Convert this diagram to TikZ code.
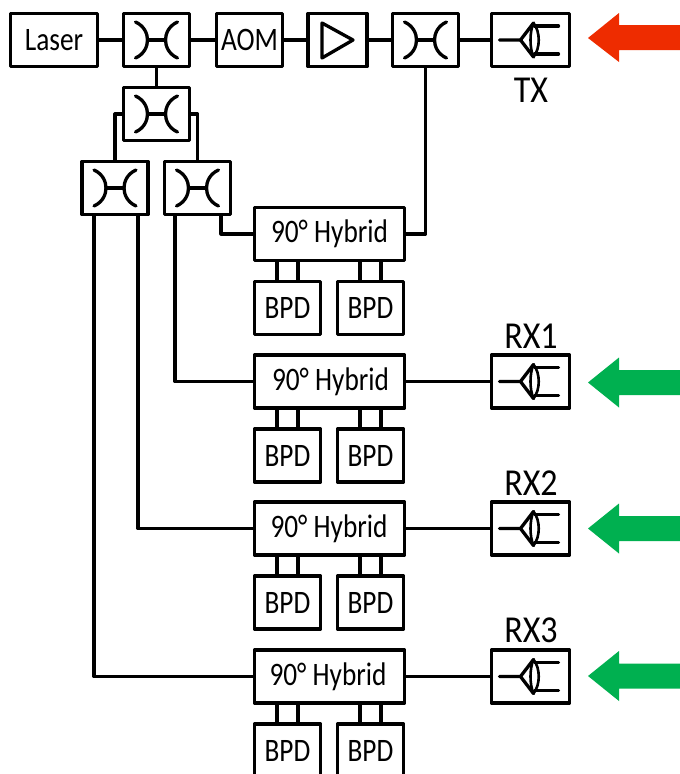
\documentclass[tikz,border=0pt]{standalone}
\usepackage{fontspec}
\setmainfont{Carlito}
\usetikzlibrary{calc}
\newcommand{\talltext}[1]{\scalebox{1}[1.2]{#1}}
\tikzset{
  x=1pt,y=-1pt,
  box/.style={draw=black,line width=3.2pt,line join=round,fill=white,inner sep=0pt,font=\fontsize{27.3}{27.3}\selectfont},
  small/.style={box,minimum width=66pt,minimum height=53pt},
  hybrid/.style={box,minimum width=150pt,minimum height=53pt},
  rxbox/.style={box,minimum width=78pt,minimum height=53pt},
  wire/.style={draw=black,line width=3.2pt,line join=round},
  glyph/.style={draw=black,line width=3.3pt,line cap=round,line join=round},
  lbl/.style={font=\fontsize{34}{34}\selectfont,inner sep=0pt},
  hlabel/.style={font=\fontsize{27.3}{27.3}\selectfont,inner sep=0pt},
  pics/coupler/.style={code={
    \draw[glyph] (-21,-18) .. controls (-12,-14) and (-9,-6) .. (-9,0) .. controls (-9,6) and (-12,14) .. (-21,18);
    \draw[glyph] (21,-18) .. controls (12,-14) and (9,-6) .. (9,0) .. controls (9,6) and (12,14) .. (21,18);
    \draw[glyph] (-9,0) -- (9,0);
  }},
  pics/detector/.style={code={
    \draw[glyph] (-31,0) -- (-10,0) -- (3,-17);
    \draw[glyph] (-10,0) -- (3,17);
    \draw[glyph,line width=2.6pt] (3,-17) .. controls (-1,-8) and (-1,8) .. (3,17);
    \draw[glyph,line width=2.6pt] (3,-17) .. controls (10,-8) and (10,8) .. (3,17);
    \draw[glyph] (4,-14) -- (28,-14);
    \draw[glyph] (4,14) -- (28,14);
  }},
}
\begin{document}
\begin{tikzpicture}
\useasboundingbox (0,0) rectangle (680,774);
% top row
\node[box,minimum width=87pt,minimum height=53pt] (laser) at (54,40) {\talltext{Laser}};
\node[small] (c1) at (156.5,40) {};
\node[small] (aom) at (249.5,40) {\talltext{AOM}};
\node[small,minimum width=59pt] (amp) at (337.5,40) {};
\node[small] (c5) at (425.5,40) {};
\node[rxbox] (tx) at (530.5,40) {};
\node[small] (c2) at (156.5,114) {};
\node[small] (c3) at (115,188) {};
\node[small] (c4) at (197.5,188) {};
% hybrids and BPDs
\foreach \n/\y/\t in {1/234/329.5,2/381.5/330.5,3/528.5/329,4/676.5/328}{
  \node[hybrid] (h\n) at (329.5,\y) {};
  \node[hlabel] (t\n) at (\t,\y) {\talltext{90° Hybrid}};
  \node[small] (ba\n) at (287.5,\y+74) {\talltext{BPD}};
  \node[small] (bb\n) at (370.5,\y+74) {\talltext{BPD}};
  \draw[wire] ([xshift=-10.5pt]h\n.south -| ba\n.north) -- ([xshift=-10.5pt]ba\n.north);
  \draw[wire] ([xshift=10.5pt]h\n.south -| ba\n.north) -- ([xshift=10.5pt]ba\n.north);
  \draw[wire] ([xshift=-10.5pt]h\n.south -| bb\n.north) -- ([xshift=-10.5pt]bb\n.north);
  \draw[wire] ([xshift=10.5pt]h\n.south -| bb\n.north) -- ([xshift=10.5pt]bb\n.north);
}
\node[rxbox] (rx1) at (530.5,381.5) {};
\node[rxbox] (rx2) at (530.5,528.5) {};
\node[rxbox] (rx3) at (530.5,676.5) {};
% glyphs
\foreach \c in {c1,c2,c3,c4,c5} \pic at (\c) {coupler};
\foreach \d in {tx,rx1,rx2,rx3} \pic at (\d) {detector};
\draw[glyph] (322,23) -- (353,40) -- (322,58) -- cycle;
% connectors
\draw[wire] (laser) -- (c1);
\draw[wire] (c1) -- (aom);
\draw[wire] (aom) -- (amp);
\draw[wire] (amp) -- (c5);
\draw[wire] (c5) -- (tx);
\draw[wire] (c1) -- (c2);
\draw[wire] (c2.west) -| (c3.north);
\draw[wire] (c2.east) -| (c4.north);
\draw[wire] (c5.south) |- (h1.east);
\draw[wire] ([xshift=23.5pt]c4.south) |- (h1.west);
\draw[wire] ([xshift=-22.5pt]c4.south) |- (h2.west);
\draw[wire] ([xshift=23pt]c3.south) |- (h3.west);
\draw[wire] ([xshift=-21pt]c3.south) |- (h4.west);
\draw[wire] (h2) -- (rx1);
\draw[wire] (h3) -- (rx2);
\draw[wire] (h4) -- (rx3);
% labels
\node[lbl] (ltx) at (531,90) {\scalebox{1}[1.12]{TX}};
\node[lbl] (lrx1) at (531,336) {\scalebox{1}[1.12]{RX1}};
\node[lbl] (lrx2) at (531,483) {\scalebox{1}[1.12]{RX2}};
\node[lbl] (lrx3) at (531,630) {\scalebox{1}[1.12]{RX3}};
% arrows
\fill[fill={rgb,255:red,238;green,44;blue,0}] (588,38) -- (619,13) -- (619,25) -- (680,25) -- (680,50) -- (619,50) -- (619,62) -- cycle;
\definecolor{grn}{RGB}{0,176,80}
\foreach \y in {382.5,528.5,676}
  \fill[grn] (588,\y) -- (619,\y-25) -- (619,\y-12.5) -- (680,\y-12.5) -- (680,\y+12.5) -- (619,\y+12.5) -- (619,\y+25) -- cycle;
\end{tikzpicture}
\end{document}
